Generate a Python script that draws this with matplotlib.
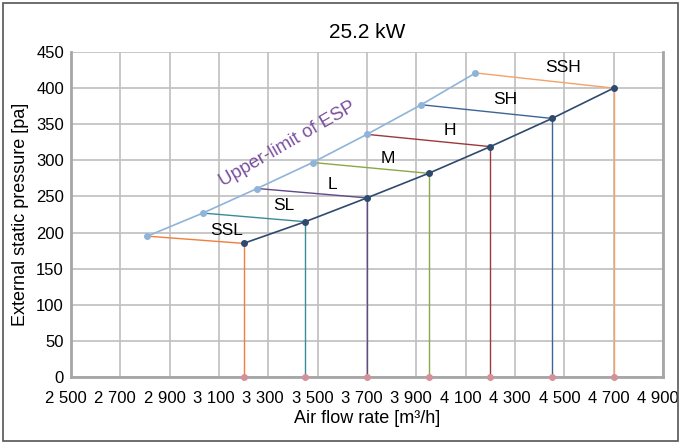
import matplotlib.pyplot as plt
from matplotlib.ticker import FuncFormatter
from matplotlib.patches import Rectangle
from matplotlib.transforms import ScaledTranslation

plt.rcParams['font.family'] = ['Liberation Sans', 'DejaVu Sans']

levels = ["SSL", "SL", "L", "M", "H", "SH", "SSH"]
# operating points (lower curve)
flow = [3200, 3450, 3700, 3950, 4200, 4450, 4700]
esp = [185, 215, 248, 282, 319, 358, 400]
# upper-limit of ESP
flow_max = [2810, 3035, 3255, 3480, 3700, 3920, 4140]
esp_max = [195, 227, 261, 297, 336, 377, 421]
# label positions
label_x = [3130, 3365, 3560, 3785, 4035, 4260, 4495]
label_y = [203, 237, 266, 303, 341, 384, 428]

level_colors = ["#F07F3C", "#3A8B9A", "#5E4A85", "#8BA84A", "#9B3A3A", "#3D6498", "#F4A16A"]

fig = plt.figure(figsize=(6.81, 4.43), dpi=100)
ax = fig.add_axes([0.104, 0.149, 0.8696, 0.7336])
fig.patches.append(Rectangle((0.004, 0.004), 0.992, 0.99, transform=fig.transFigure,
                             fill=False, edgecolor="#555555", linewidth=1.2))

for i in range(len(levels)):
    c = level_colors[i]
    ax.plot([flow_max[i], flow[i]], [esp_max[i], esp[i]], color=c, linewidth=1, zorder=3)
    ax.plot([flow[i], flow[i]], [0, esp[i]], color=c, linewidth=1, zorder=3)
    ax.plot(flow[i], 0, 'o', color="#D4919A", markersize=4, zorder=5, clip_on=False)
    ax.text(label_x[i], label_y[i], levels[i], fontsize=12.5, ha='center', va='center', zorder=6)

ax.plot(flow_max, esp_max, 'o-', color="#8FB4D9", markersize=4, linewidth=1.2, zorder=4)
ax.plot(flow, esp, 'o-', color="#2F4A6E", markersize=4, linewidth=1.2, zorder=4)

ax.text(3380, 322, "Upper-limit of ESP", color="#7B4FA0", fontsize=13.5, rotation=30,
        ha='center', va='center', rotation_mode='anchor')

ax.set_xlim(2500, 4900)
ax.set_ylim(0, 450)
ax.set_xticks(range(2500, 4901, 200))
ax.set_yticks(range(0, 451, 50))
ax.xaxis.set_major_formatter(FuncFormatter(lambda v, p: f"{int(v):,}".replace(",", " ")))
ax.tick_params(labelsize=12, length=0)
ax.tick_params(axis='x', pad=10)
ax.tick_params(axis='y', pad=5)
shift = ScaledTranslation(-5 / 100, 0, fig.dpi_scale_trans)
for t in ax.xaxis.get_major_ticks():
    t.label1.set_transform(t.label1.get_transform() + shift)
ax.grid(True, color="#BFBFBF", linewidth=1.2)
ax.set_axisbelow(True)
for s in ["left", "bottom", "right"]:
    ax.spines[s].set_color("#A6A6A6")
    ax.spines[s].set_linewidth(2)
ax.spines["top"].set_visible(False)

ax.set_xlabel("Air flow rate [m³/h]", fontsize=13, labelpad=3)
ax.set_ylabel("External static pressure [pa]", fontsize=13, labelpad=5)
ax.set_title("25.2 kW", fontsize=15, pad=10)

fig.savefig("out.png", dpi=100)
